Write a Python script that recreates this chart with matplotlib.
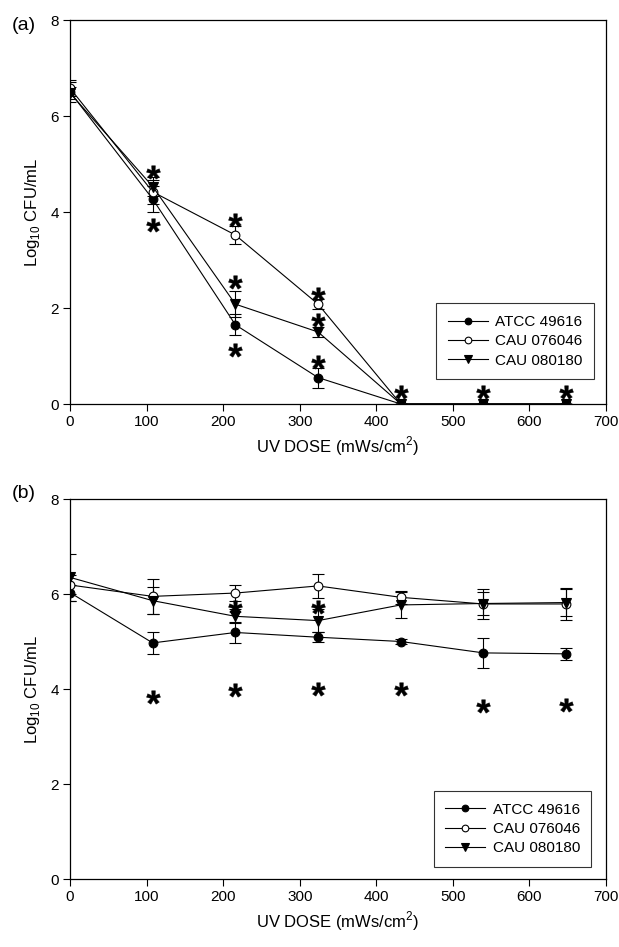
import numpy as np
import matplotlib
matplotlib.use("Agg")
import matplotlib.pyplot as plt
from matplotlib.textpath import TextPath
from matplotlib.font_manager import FontProperties
from matplotlib.path import Path
from matplotlib.markers import MarkerStyle
from matplotlib.lines import Line2D

plt.rcParams['font.family'] = ['Liberation Sans', 'DejaVu Sans']
plt.rcParams['mathtext.fontset'] = 'custom'
plt.rcParams['mathtext.rm'] = 'Liberation Sans'

# ---------------- data ----------------
dose = [0, 108, 216, 324, 432, 540, 648]
series_names = ["ATCC 49616", "CAU 076046", "CAU 080180"]

# panel (a)
a_atcc = [6.50, 4.27, 1.65, 0.55, 0.0, 0.0, 0.0]
a_atcc_err = [0.20, 0.27, 0.22, 0.21, 0.0, 0.0, 0.0]
a_076 = [6.58, 4.42, 3.52, 2.08, 0.0, 0.0, 0.0]
a_076_err = [0.16, 0.25, 0.18, 0.10, 0.0, 0.0, 0.0]
a_080 = [6.48, 4.53, 2.08, 1.50, 0.0, 0.0, 0.0]
a_080_err = [0.12, 0.20, 0.27, 0.10, 0.0, 0.0, 0.0]
a_star_x = [108, 108, 216, 216, 216, 324, 324, 324, 432, 540, 648]
a_star_y = [4.84, 3.73, 3.83, 2.55, 1.12, 2.29, 1.75, 0.88, 0.26, 0.26, 0.26]

# panel (b)
b_atcc = [6.03, 4.97, 5.19, 5.09, 5.00, 4.76, 4.74]
b_atcc_err = [0.17, 0.23, 0.22, 0.10, 0.06, 0.31, 0.12]
b_076 = [6.19, 5.95, 6.02, 6.17, 5.93, 5.79, 5.79]
b_076_err = [0.20, 0.37, 0.17, 0.25, 0.14, 0.31, 0.34]
b_080 = [6.35, 5.86, 5.53, 5.44, 5.77, 5.80, 5.82]
b_080_err = [0.50, 0.28, 0.15, 0.24, 0.28, 0.25, 0.28]
b_star_x = [108, 216, 324, 432, 540, 648, 216, 324]
b_star_y = [3.83, 3.98, 4.00, 4.00, 3.64, 3.66, 5.73, 5.73]

xticks = [0, 100, 200, 300, 400, 500, 600, 700]
yticks = [0, 2, 4, 6, 8]
xlabel = "UV DOSE (mWs/cm$^2$)"
ylabel = "Log$_{10}$ CFU/mL"
panel_labels = ["(a)", "(b)"]

# asterisk marker centered on its ink
tp = TextPath((0, 0), "*", size=10,
              prop=FontProperties(family="Liberation Sans", weight="bold"))
v = tp.vertices.copy()
codes = tp.codes.copy()
ink = codes != Path.CLOSEPOLY
cx = (v[ink, 0].min() + v[ink, 0].max()) / 2
cy = (v[ink, 1].min() + v[ink, 1].max()) / 2
v[:, 0] -= cx
v[:, 1] -= cy
v[~ink] = 0.0
star_marker = MarkerStyle(Path(v, codes))

fig = plt.figure(figsize=(6.19, 9.47), dpi=100)
W, H = 619, 947

def make_axes(top_px, bot_px):
    return fig.add_axes([70 / W, 1 - bot_px / H, (606 - 70) / W, (bot_px - top_px) / H])

axA = make_axes(20, 404)
axB = make_axes(499, 879)

styles = [
    dict(marker='o', mfc='black', mec='black', ms=6.3),
    dict(marker='o', mfc='white', mec='black', ms=6.3),
    dict(marker='v', mfc='black', mec='black', ms=7.0),
]

def draw(ax, ys, errs, sx, sy, label, legend_loc, lbl_y):
    for y, e, st in zip(ys, errs, styles):
        ax.errorbar(dose, y, yerr=e, color='black', lw=0.8, elinewidth=0.8,
                    capsize=4.3, capthick=0.8, mew=0.8, **st)
    ax.plot(sx, sy, linestyle='none', marker=star_marker, ms=10,
            color='black', mec='black', mfc='black', mew=0.3)
    ax.set_xlim(0, 700)
    ax.set_ylim(0, 8)
    ax.set_xticks(xticks)
    ax.set_yticks(yticks)
    ax.tick_params(direction='out', length=5, width=0.8, labelsize=11, pad=3)
    for s in ax.spines.values():
        s.set_linewidth(0.9)
    ax.set_xlabel(xlabel, fontsize=12, labelpad=4)
    ax.set_ylabel(ylabel, fontsize=12, labelpad=6)
    handles = [Line2D([], [], color='black', lw=0.8, mew=0.8,
                      **dict(st, ms=st['ms'] - 1.5)) for st in styles]
    leg = ax.legend(handles, series_names, loc='lower right', bbox_to_anchor=legend_loc,
                    frameon=True, fancybox=False, edgecolor='black', fontsize=11,
                    handlelength=2.6, borderpad=0.75, labelspacing=0.35,
                    handletextpad=0.5)
    leg.get_frame().set_linewidth(0.8)
    fig.text(12 / W, 1 - lbl_y / H, label, fontsize=14, va='center', ha='left')

draw(axA, [a_atcc, a_076, a_080], [a_atcc_err, a_076_err, a_080_err],
     a_star_x, a_star_y, panel_labels[0], (0.992, 0.045), 25)
draw(axB, [b_atcc, b_076, b_080], [b_atcc_err, b_076_err, b_080_err],
     b_star_x, b_star_y, panel_labels[1], (0.987, 0.012), 493)

fig.savefig("out.png", dpi=100)
